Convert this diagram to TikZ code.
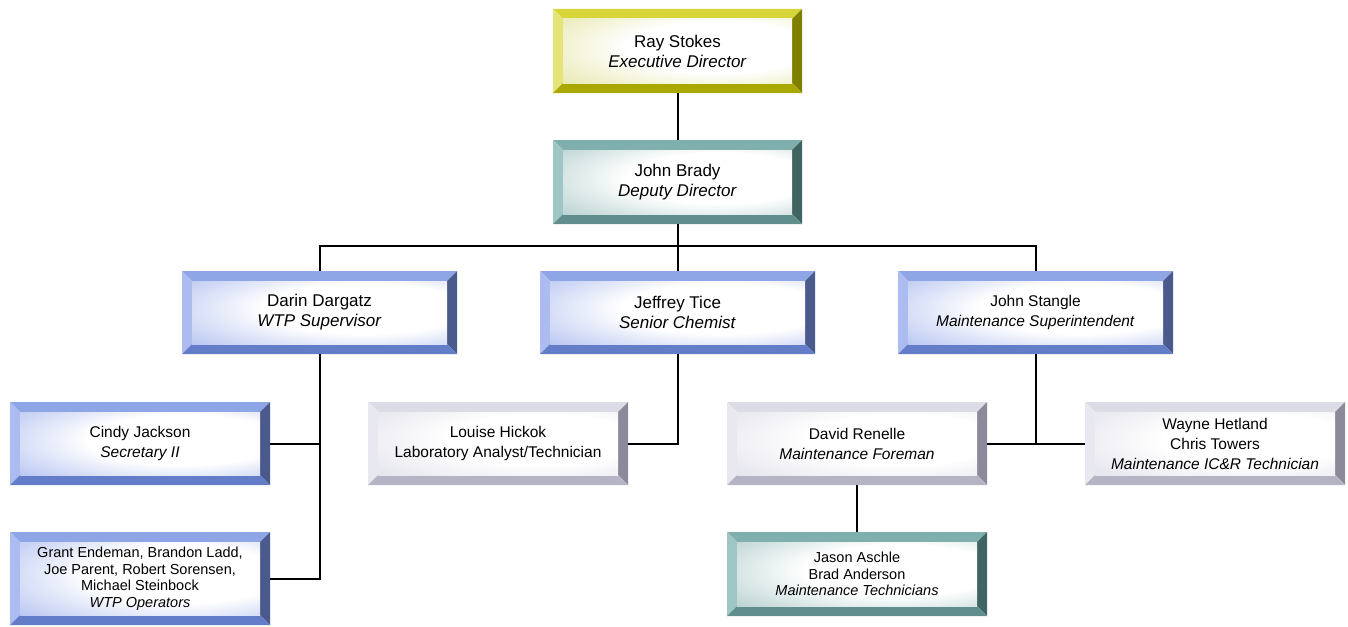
\documentclass[tikz,border=0pt]{standalone}
\usepackage{fontspec}
\setmainfont{Liberation Sans}
\definecolor{yellowtop}{RGB}{214,214,58}
\definecolor{yellowleft}{RGB}{228,228,120}
\definecolor{yellowright}{RGB}{128,128,0}
\definecolor{yellowbottom}{RGB}{168,168,0}
\definecolor{yellowtint}{RGB}{222,222,140}
\definecolor{tealtop}{RGB}{128,176,174}
\definecolor{tealleft}{RGB}{158,198,196}
\definecolor{tealright}{RGB}{64,100,98}
\definecolor{tealbottom}{RGB}{95,142,140}
\definecolor{tealtint}{RGB}{150,188,186}
\definecolor{bluetop}{RGB}{143,166,230}
\definecolor{blueleft}{RGB}{172,188,240}
\definecolor{blueright}{RGB}{75,90,140}
\definecolor{bluebottom}{RGB}{100,125,200}
\definecolor{bluetint}{RGB}{150,170,235}
\definecolor{graytop}{RGB}{220,220,230}
\definecolor{grayleft}{RGB}{232,232,240}
\definecolor{grayright}{RGB}{140,138,154}
\definecolor{graybottom}{RGB}{180,180,196}
\definecolor{graytint}{RGB}{214,214,228}
\colorlet{facetint}{bluetint}
\pgfdeclareradialshading[facetint]{facegrad}{\pgfpoint{12bp}{4bp}}{%
  color(0bp)=(white); color(20bp)=(white); color(52bp)=(facetint); color(80bp)=(facetint)}
\tikzset{
  conn/.style={line width=2pt, black},
  big/.style={font=\fontsize{17}{20}\selectfont},
  mid/.style={font=\fontsize{15.5}{20}\selectfont},
  small/.style={font=\fontsize{14.5}{16.5}\selectfont},
}
% #1 name, #2 scheme, #3 x1, #4 y1, #5 x2, #6 y2, #7 text style, #8 text
\newcommand{\orgbox}[8]{%
  \fill[#2top] (#3,#4) -- (#5,#4) -- ({#5-10},{#4+10}) -- ({#3+10},{#4+10}) -- cycle;
  \fill[#2left] (#3,#4) -- ({#3+10},{#4+10}) -- ({#3+10},{#6-10}) -- (#3,#6) -- cycle;
  \fill[#2right] (#5,#4) -- (#5,#6) -- ({#5-10},{#6-10}) -- ({#5-10},{#4+10}) -- cycle;
  \fill[#2bottom] (#3,#6) -- (#5,#6) -- ({#5-10},{#6-10}) -- ({#3+10},{#6-10}) -- cycle;
  \colorlet{facetint}{#2tint}%
  \shade[shading=facegrad] ({#3+10},{#4+10}) rectangle ({#5-10},{#6-10});
  \node[#7, align=center, inner sep=0pt, minimum width={(#5-#3)*1pt}, minimum height={(#6-#4)*1pt}] (#1) at ({(#3+#5)/2},{(#4+#6)/2}) {#8};
}
\begin{document}
\begin{tikzpicture}[x=1pt, y=-1pt]
\useasboundingbox (0,0) rectangle (1348,626);
\orgbox{ray}{yellow}{553}{9}{802}{93}{big}{Ray Stokes\\\textit{Executive Director}}
\orgbox{brady}{teal}{553}{140}{802}{224}{big}{John Brady\\\textit{Deputy Director}}
\orgbox{darin}{blue}{182}{271}{457}{354}{big}{Darin Dargatz\\\textit{WTP Supervisor}}
\orgbox{tice}{blue}{540}{271}{815}{354}{big}{Jeffrey Tice\\\textit{Senior Chemist}}
\orgbox{stangle}{blue}{898}{271}{1173}{354}{mid}{John Stangle\\\textit{Maintenance Superintendent}}
\orgbox{cindy}{blue}{10}{402}{270}{485}{mid}{Cindy Jackson\\\textit{Secretary II}}
\orgbox{grant}{blue}{10}{532}{270}{625}{small}{Grant Endeman, Brandon Ladd,\\Joe Parent, Robert Sorensen,\\Michael Steinbock\\\textit{WTP Operators}}
\orgbox{louise}{gray}{368}{402}{628}{485}{mid}{Louise Hickok\\Laboratory Analyst/Technician}
\orgbox{david}{gray}{727}{402}{987}{485}{mid}{David Renelle\\\textit{Maintenance Foreman}}
\orgbox{wayne}{gray}{1085}{402}{1345}{485}{mid}{Wayne Hetland\\Chris Towers\\\textit{Maintenance IC\&R Technician}}
\orgbox{jason}{teal}{727}{532}{987}{616}{small}{Jason Aschle\\Brad Anderson\\\textit{Maintenance Technicians}}
\coordinate (bus) at (677.5,246);
\draw[conn] (ray.south) -- (brady.north);
\draw[conn] (brady.south) -- (bus);
\draw[conn] (darin.north) |- (bus) -| (stangle.north);
\draw[conn] (bus) -- (tice.north);
\draw[conn] (darin.south) |- (grant.east);
\draw[conn] (cindy.east) -- (cindy.east -| darin.south);
\draw[conn] (tice.south) |- (louise.east);
\draw[conn] (stangle.south) |- (david.east);
\draw[conn] (wayne.west) -- (wayne.west -| stangle.south);
\draw[conn] (david.south) -- (jason.north);
\end{tikzpicture}
\end{document}
